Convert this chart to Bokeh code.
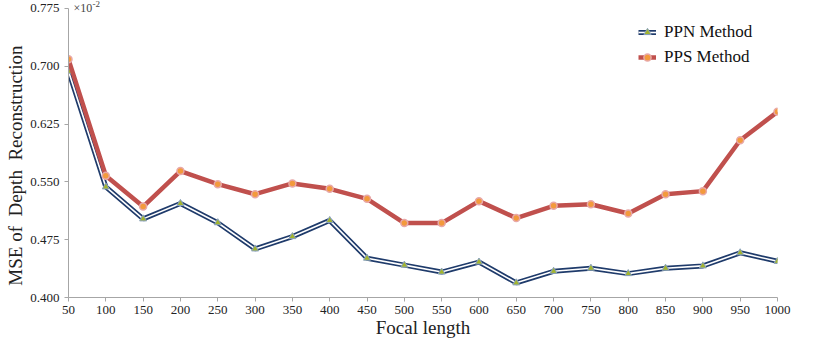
from bokeh.plotting import figure
from bokeh.models import Range1d, FixedTicker, Legend, LegendItem, Label, Title
from bokeh.embed import file_html
from bokeh.resources import INLINE

focal = [50, 100, 150, 200, 250, 300, 350, 400, 450, 500,
         550, 600, 650, 700, 750, 800, 850, 900, 950, 1000]
ppn = [0.6935, 0.5435, 0.502, 0.522, 0.497, 0.463, 0.479, 0.500, 0.451, 0.442,
       0.433, 0.446, 0.419, 0.434, 0.438, 0.431, 0.438, 0.441, 0.458, 0.447]
pps = [0.709, 0.558, 0.518, 0.564, 0.547, 0.534, 0.548, 0.541, 0.528, 0.4965,
       0.4965, 0.525, 0.503, 0.519, 0.521, 0.509, 0.534, 0.538, 0.604, 0.641]
y_ticks = [0.400, 0.475, 0.550, 0.625, 0.700, 0.775]
y_tick_labels = ["0.400", "0.475", "0.550", "0.625", "0.700", "0.775"]
series_names = ["PPN Method", "PPS Method"]
x_title = "Focal length"
y_title = "MSE of\u00a0 Depth\u00a0 Reconstruction"

FONT = "Liberation Serif"

# frame extends a little above the last tick so the x10^-2 note fits inside it
p = figure(width=814, height=340, output_backend="svg", toolbar_location=None,
           x_range=Range1d(50, 1000), y_range=Range1d(0.400, 0.7853),
           min_border_left=67, min_border_right=37, min_border_top=0,
           min_border_bottom=42)
p.outline_line_color = None
p.xgrid.grid_line_color = None
p.ygrid.grid_line_color = None
p.background_fill_color = "white"

# axes
p.xaxis.ticker = FixedTicker(ticks=focal)
p.yaxis.ticker = FixedTicker(ticks=y_ticks)
p.yaxis.bounds = (y_ticks[0], y_ticks[-1])
p.yaxis.major_label_overrides = {t: s for t, s in zip(y_ticks, y_tick_labels)}
for ax in (p.xaxis, p.yaxis):
    ax.axis_line_color = "#a6a6a6"
    ax.major_tick_line_color = "#a6a6a6"
    ax.minor_tick_line_color = None
    ax.major_tick_out = 4
    ax.major_tick_in = 0
    ax.major_label_text_font = FONT
    ax.major_label_text_font_size = "13px"
    ax.major_label_text_color = "#222222"
    ax.axis_label_text_font = FONT
    ax.axis_label_text_font_style = "normal"
    ax.axis_label_text_font_size = "19px"
    ax.axis_label_text_color = "#222222"
p.xaxis.axis_label = x_title
p.xaxis.major_label_standoff = 4
p.yaxis.major_label_standoff = 5
p.xaxis.axis_label_standoff = 0

# y title in the left panel (trailing no-break spaces push the words a bit lower)
ytitle = Title(text=y_title + "\u00a0" * 7, align="center", standoff=4,
               text_font=FONT, text_font_size="19px", text_font_style="normal",
               text_color="#222222")
p.add_layout(ytitle, "left")

# PPN: double line (navy with white center)
ppn_outer = p.line(focal, ppn, line_color="#1f3b6b", line_width=5)
ppn_inner = p.line(focal, ppn, line_color="white", line_width=1.6)
ppn_mk = p.scatter(focal, ppn, marker="triangle", size=7,
                   fill_color="#a3b52e", line_color="#8aa2c0", line_width=1)

# PPS: thick red line with orange dots
pps_line = p.line(focal, pps, line_color="#c0504d", line_width=4.5)
pps_mk = p.scatter(focal, pps, marker="circle", size=7,
                   fill_color="#f39a3c", line_color="#e8a8a8", line_width=1.5)

legend = Legend(items=[
    LegendItem(label=series_names[0], renderers=[ppn_outer, ppn_inner, ppn_mk]),
    LegendItem(label=series_names[1], renderers=[pps_line, pps_mk]),
], location=(570, 230))
legend.border_line_color = None
legend.background_fill_alpha = 0
legend.label_text_font = FONT
legend.label_text_font_size = "17px"
legend.label_text_color = "#111111"
legend.glyph_width = 18
legend.glyph_height = 20
legend.label_height = 21
legend.label_standoff = 8
legend.spacing = 4
legend.padding = 0
legend.margin = 0
p.add_layout(legend)

# x10^-2 multiplier
p.add_layout(Label(x=50, y=y_ticks[-1], x_offset=5, text="×10", text_font=FONT,
                   text_font_size="12px", text_color="#444444",
                   text_baseline="middle"))
p.add_layout(Label(x=50, y=y_ticks[-1], x_offset=24, y_offset=4, text="-2", text_font=FONT,
                   text_font_size="9px", text_color="#444444",
                   text_baseline="middle"))

open("out.html", "w").write(file_html(p, INLINE))
